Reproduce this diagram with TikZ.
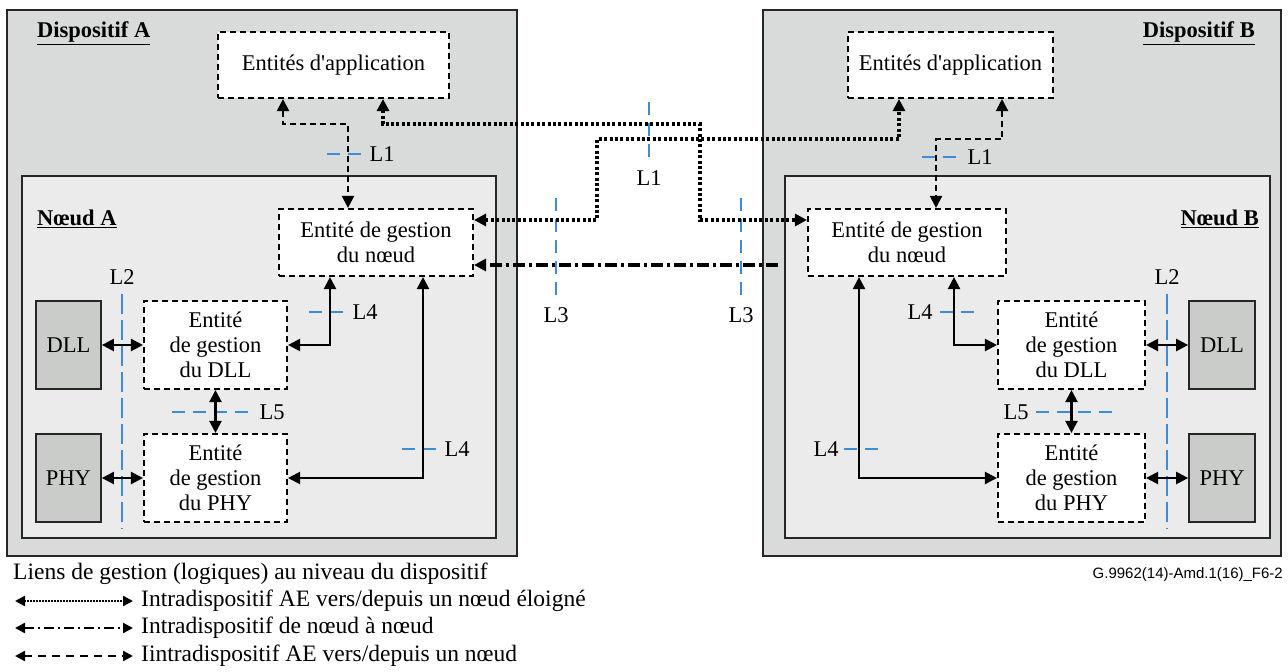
\documentclass[tikz,border=0pt]{standalone}
\usepackage{fontspec}
\setmainfont{Liberation Serif}[Ligatures=TeXOff]
\newfontfamily\gsans{Liberation Sans}
\usetikzlibrary{arrows.meta}
\definecolor{devgray}{HTML}{D9DADA}
\definecolor{nodegray}{HTML}{EBEBEB}
\definecolor{laygray}{HTML}{C9CCC9}
\definecolor{lblue}{HTML}{3A8DD6}
\tikzset{
  devbox/.style={draw=black!85, line width=1.5pt, fill=devgray},
  nodebox/.style={draw=black!85, line width=1.5pt, fill=nodegray},
  entbox/.style={draw, line width=2.1pt, dash pattern=on 6pt off 4pt, fill=white, align=center, inner sep=0pt,
    font=\fontsize{22.5}{25}\selectfont},
  laybox/.style={draw=black!85, line width=1.7pt, fill=laygray, inner sep=0pt, minimum width=65pt, minimum height=88pt,
    font=\fontsize{22.5}{25}\selectfont},
  lbl/.style={font=\fontsize{22.5}{25}\selectfont, inner sep=0pt},
  ttl/.style={font=\fontsize{22.5}{25}\selectfont\bfseries, inner sep=0pt},
  tip/.style={-{Triangle[length=12pt,width=12pt]}},
  biarrow/.style={{Triangle[length=12pt,width=12pt]}-{Triangle[length=12pt,width=12pt]}},
  sol/.style={line width=2.2pt, biarrow},
  dsh/.style={line width=2.2pt, dash pattern=on 6pt off 4pt, biarrow},
  dotl/.style={line width=3.2pt, dash pattern=on 3pt off 2.4pt, biarrow},
  ddot/.style={line width=3.2pt, dash pattern=on 12pt off 4pt on 3pt off 4pt, tip},
  bluedash/.style={lblue, line width=1.8pt, dash pattern=on 13pt off 8pt},
  bluelong/.style={lblue, line width=1.8pt, dash pattern=on 20pt off 6pt},
  legsmall/.style={{Triangle[length=10pt,width=10pt]}-{Triangle[length=10pt,width=10pt]}},
}
\begin{document}
\begin{tikzpicture}[x=1pt,y=-1pt]
\useasboundingbox (0,0) rectangle (1288,672);
% devices
\node[devbox, minimum width=510pt, minimum height=546pt, inner sep=0pt] (devA) at (262,283) {};
\node[devbox, minimum width=518pt, minimum height=546pt, inner sep=0pt] (devB) at (1022,283) {};
\node[nodebox, minimum width=474pt, minimum height=362pt, inner sep=0pt] (ndA) at (259,357) {};
\node[nodebox, minimum width=485pt, minimum height=362pt, inner sep=0pt] (ndB) at (1027.5,357) {};
\node[ttl, anchor=west] (tA) at (37,33) {\underline{Dispositif A}};
\node[ttl, anchor=east] (tB) at (1255,33) {\underline{Dispositif B}};
\node[ttl, anchor=west] (nA) at (37,219) {\underline{Nœud A}};
\node[ttl, anchor=east] (nB) at (1259,219) {\underline{Nœud B}};
% entities
\node[entbox, minimum width=231pt, minimum height=66pt] (appA) at (333.5,65) {Entités d'application};
\node[entbox, minimum width=205pt, minimum height=66pt] (appB) at (950.5,65) {Entités d'application};
\node[entbox, minimum width=194pt, minimum height=67pt] (nmA) at (376,242.5) {Entité de gestion\\du nœud};
\node[entbox, minimum width=198pt, minimum height=67pt] (nmB) at (907,242.5) {Entité de gestion\\du nœud};
\node[entbox, minimum width=143pt, minimum height=88pt] (dllmA) at (215.5,345) {Entité\\de gestion\\du DLL};
\node[entbox, minimum width=143pt, minimum height=88pt] (phymA) at (215.5,478) {Entité\\de gestion\\du PHY};
\node[entbox, minimum width=147pt, minimum height=88pt] (dllmB) at (1071.5,345) {Entité\\de gestion\\du DLL};
\node[entbox, minimum width=147pt, minimum height=88pt] (phymB) at (1071.5,478) {Entité\\de gestion\\du PHY};
\node[laybox] (dllA) at (68.5,345) {DLL};
\node[laybox] (phyA) at (68.5,478) {PHY};
\node[laybox, minimum width=66pt] (dllB) at (1222,345) {DLL};
\node[laybox, minimum width=66pt] (phyB) at (1222,478) {PHY};
% blue boundary marks
\draw[bluedash] (327,154) -- (363,154);
\draw[bluedash] (922,157) -- (958,157);
\draw[bluedash] (649,102) -- (649,161);
\draw[bluedash] (556,198) -- (556,302);
\draw[bluedash] (741,198) -- (741,302);
\draw[bluelong] (122,294) -- (122,529);
\draw[bluelong] (1167,294) -- (1167,529);
\draw[bluedash] (309,312) -- (345,312);
\draw[bluedash] (402,449) -- (438,449);
\draw[bluedash] (940,312) -- (977,312);
\draw[bluedash] (844,449) -- (880,449);
\draw[bluedash] (172,412) -- (252,412);
\draw[bluedash] (1036,412) -- (1116,412);
\node[lbl] (l1a) at (382,154) {L1};
\node[lbl] (l1b) at (980,157) {L1};
\node[lbl] (l1m) at (649,178) {L1};
\node[lbl] (l3a) at (556,315) {L3};
\node[lbl] (l3b) at (741,315) {L3};
\node[lbl] (l2a) at (122,277) {L2};
\node[lbl] (l2b) at (1167,277) {L2};
\node[lbl] (l4a) at (365,312) {L4};
\node[lbl] (l4b) at (457,449) {L4};
\node[lbl] (l4c) at (920,312) {L4};
\node[lbl] (l4d) at (826,449) {L4};
\node[lbl] (l5a) at (272,412) {L5};
\node[lbl] (l5b) at (1016,412) {L5};
% connectors device A
\draw[dsh] ([xshift=-50.5pt]appA.south) -- (283,124) -- (348,124) -- ([xshift=-28pt]nmA.north);
\draw[dotl] ([xshift=49.5pt]appA.south) -- (383,124) -- (700,124) -- (700,220) -- ([yshift=22.5pt]nmB.west);
\draw[dotl] ([yshift=22.5pt]nmA.east) -- (597,220) -- (597,139) -- (899,139) -- ([xshift=-51.5pt]appB.south);
\coordinate (ddend) at (778,265);
\draw[ddot] (ddend) -- ([yshift=-22.5pt]nmA.east);
\draw[sol] ([xshift=-46pt]nmA.south) -- (330,345) -- (dllmA.east);
\draw[sol] ([xshift=47pt]nmA.south) -- (423,478) -- (phymA.east);
\draw[sol] (dllA.east) -- (dllmA.west);
\draw[sol] (phyA.east) -- (phymA.west);
\draw[sol] (dllmA.south) -- (phymA.north);
% connectors device B
\draw[dsh] ([xshift=51.5pt]appB.south) -- (1002,139) -- (936,139) -- ([xshift=29pt]nmB.north);
\draw[sol] ([xshift=-48pt]nmB.south) -- (859,478) -- (phymB.west);
\draw[sol] ([xshift=47pt]nmB.south) -- (954,345) -- (dllmB.west);
\draw[sol] (dllmB.east) -- (dllB.west);
\draw[sol] (phymB.east) -- (phyB.west);
\draw[sol] (dllmB.south) -- (phymB.north);
% legend
\node[lbl, anchor=west, font=\fontsize{23.5}{26}\selectfont] (leg) at (13,574) {Liens de gestion (logiques) au niveau du dispositif};
\node[anchor=east, inner sep=0pt, font=\gsans\fontsize{15}{17}\selectfont] (ref) at (1283,575) {G.9962(14)-Amd.1(16)\_F6-2};
\coordinate (g1a) at (15,601); \coordinate (g1b) at (133,601);
\coordinate (g2a) at (15,628); \coordinate (g2b) at (133,628);
\coordinate (g3a) at (15,656); \coordinate (g3b) at (133,656);
\draw[legsmall, line width=2.4pt, dash pattern=on 1.6pt off 1.4pt] (g1a) -- (g1b);
\draw[legsmall, line width=2.4pt, dash pattern=on 10pt off 4pt on 2pt off 4pt] (g2a) -- (g2b);
\draw[legsmall, line width=2.4pt, dash pattern=on 8pt off 6pt] (g3a) -- (g3b);
\node[lbl, anchor=west, font=\fontsize{23.5}{26}\selectfont] (t1) at (141,601) {Intradispositif AE vers/depuis un nœud éloigné};
\node[lbl, anchor=west, font=\fontsize{23.5}{26}\selectfont] (t2) at (141,628) {Intradispositif de nœud à nœud};
\node[lbl, anchor=west, font=\fontsize{23.5}{26}\selectfont] (t3) at (141,656) {Iintradispositif AE vers/depuis un nœud};
\end{tikzpicture}
\end{document}
